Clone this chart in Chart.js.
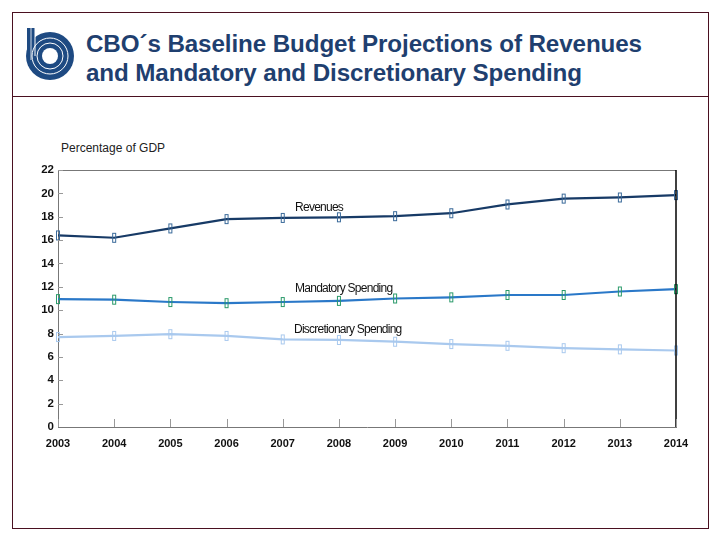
<!DOCTYPE html>
<html>
<head>
<meta charset="utf-8">
<script src="https://cdn.jsdelivr.net/npm/chart.js@4/dist/chart.umd.min.js"></script>
<style>
  html, body { margin: 0; padding: 0; background: #ffffff; }
  body { width: 720px; height: 540px; position: relative; overflow: hidden; font-family: "Liberation Sans", Arial, sans-serif; }
  #frame { position: absolute; left: 12px; top: 12px; width: 695px; height: 515px; border: 1px solid #4a1020; box-sizing: content-box; }
  #divider { position: absolute; left: 12px; top: 96px; width: 696px; height: 1px; background: #4a1020; }
  #title { position: absolute; left: 86px; top: 29px; font-size: 24.2px; line-height: 29px; font-weight: bold; color: #1f3f6f; letter-spacing: -0.1px; }
  #logo { position: absolute; left: 24px; top: 26px; }
  #ylabel { position: absolute; left: 61px; top: 141px; font-size: 12px; color: #222; }
  #chartWrap { position: absolute; left: 0; top: 0; width: 720px; height: 540px; }
</style>
</head>
<body>
<div id="frame"></div>
<div id="divider"></div>
<svg id="logo" width="54" height="58" viewBox="0 0 54 58">
  <circle cx="26" cy="30" r="24" fill="#1e4a82"/>
  <rect x="3" y="2" width="8" height="32" fill="#1e4a82"/>
  <circle cx="26" cy="30" r="18" fill="none" stroke="#ffffff" stroke-width="1"/>
  <circle cx="26" cy="30" r="13" fill="none" stroke="#ffffff" stroke-width="1"/>
  <circle cx="26" cy="30" r="8" fill="#ffffff"/>
  <line x1="11" y1="2" x2="11" y2="30" stroke="#ffffff" stroke-width="1"/>
  <line x1="7" y1="2" x2="7" y2="34" stroke="#ffffff" stroke-width="0.8"/>
</svg>
<div id="title">CBO´s Baseline Budget Projections of Revenues<br>and Mandatory and Discretionary Spending</div>
<div id="ylabel">Percentage of GDP</div>
<div id="chartWrap"><canvas id="c" width="720" height="540"></canvas></div>
<script>
const years = [2003, 2004, 2005, 2006, 2007, 2008, 2009, 2010, 2011, 2012, 2013, 2014];
const revenues = [16.4, 16.2, 17.0, 17.8, 17.9, 17.95, 18.05, 18.3, 19.05, 19.55, 19.65, 19.85];
const mandatory = [10.95, 10.9, 10.7, 10.6, 10.7, 10.8, 11.0, 11.1, 11.3, 11.3, 11.6, 11.8];
const discretionary = [7.7, 7.8, 7.95, 7.8, 7.5, 7.45, 7.3, 7.1, 6.95, 6.75, 6.65, 6.55];
const yTicks = [0, 2, 4, 6, 8, 10, 12, 14, 16, 18, 20, 22];
const seriesLabels = ["Revenues", "Mandatory Spending", "Discretionary Spending"];
const labelAnchors = [[2007.22, 18.75], [2007.22, 11.8], [2007.2, 8.35]];

function makeMarker(color) {
  const c = document.createElement('canvas');
  c.width = 6; c.height = 12;
  const g = c.getContext('2d');
  g.strokeStyle = color; g.lineWidth = 1;
  g.strokeRect(1.5, 1.5, 3, 9);
  return c;
}

const toXY = arr => arr.map((v, i) => ({ x: years[i], y: v }));
const condensed = "'Liberation Sans Narrow', 'Liberation Sans', Arial, sans-serif";

const decor = {
  id: 'decor',
  afterDatasetsDraw(chart) {
    const { ctx, chartArea: a, scales: { x, y } } = chart;
    ctx.save();
    ctx.strokeStyle = '#777'; ctx.lineWidth = 1;
    ctx.beginPath(); ctx.moveTo(a.left, a.top + 0.5); ctx.lineTo(a.right, a.top + 0.5); ctx.stroke();
    ctx.strokeStyle = '#000'; ctx.lineWidth = 1.5;
    ctx.beginPath(); ctx.moveTo(a.right, a.top); ctx.lineTo(a.right, a.bottom); ctx.stroke();
    ctx.strokeStyle = '#999'; ctx.lineWidth = 1;
    yTicks.forEach(t => {
      if (t === 0) return;
      const py = Math.round(y.getPixelForValue(t)) + 0.5;
      ctx.beginPath(); ctx.moveTo(a.left, py); ctx.lineTo(a.left + 5, py); ctx.stroke();
    });
    years.forEach(yr => {
      const px = Math.round(x.getPixelForValue(yr)) + 0.5;
      ctx.beginPath(); ctx.moveTo(px, a.bottom); ctx.lineTo(px, a.bottom - 8); ctx.stroke();
    });
    ctx.fillStyle = '#111';
    ctx.font = "12px " + condensed;
    try { ctx.letterSpacing = '-0.75px'; } catch (e) {}
    ctx.textBaseline = 'middle';
    ctx.textAlign = 'left';
    seriesLabels.forEach((lab, i) => {
      ctx.fillText(lab, x.getPixelForValue(labelAnchors[i][0]), y.getPixelForValue(labelAnchors[i][1]));
    });
    ctx.restore();
  }
};

new Chart(document.getElementById('c'), {
  type: 'line',
  data: {
    datasets: [
      { label: seriesLabels[0], data: toXY(revenues), borderColor: '#173a66', borderWidth: 2.2,
        pointStyle: makeMarker('#3a6a9a'), pointRadius: 5, tension: 0 },
      { label: seriesLabels[1], data: toXY(mandatory), borderColor: '#2a78c8', borderWidth: 2.2,
        pointStyle: makeMarker('#2a9a6a'), pointRadius: 5, tension: 0 },
      { label: seriesLabels[2], data: toXY(discretionary), borderColor: '#a9c9ee', borderWidth: 2.2,
        pointStyle: makeMarker('#a9c9ee'), pointRadius: 5, tension: 0 }
    ]
  },
  options: {
    responsive: false,
    animation: false,
    clip: false,
    layout: { padding: { left: 36, right: 44, top: 170, bottom: 93 } },
    plugins: { legend: { display: false }, tooltip: { enabled: false } },
    scales: {
      x: {
        type: 'linear', min: 2003, max: 2014,
        afterFit: s => { s.height = 20; },
        afterBuildTicks: s => { s.ticks = years.map(v => ({ value: v })); },
        grid: { display: false, drawTicks: false },
        border: { display: true, color: '#777', width: 1 },
        ticks: { padding: 10, color: '#111', font: { family: condensed, size: 11, weight: 'bold' },
                 callback: v => String(v), maxRotation: 0, autoSkip: false }
      },
      y: {
        min: 0, max: 22,
        afterFit: s => { s.width = 22; },
        afterBuildTicks: s => { s.ticks = yTicks.map(v => ({ value: v })); },
        grid: { display: false, drawTicks: false },
        border: { display: true, color: '#777', width: 1 },
        ticks: { padding: 4, color: '#111', font: { family: condensed, size: 11.5, weight: 'bold' } }
      }
    }
  },
  plugins: [decor]
});
</script>
</body>
</html>
